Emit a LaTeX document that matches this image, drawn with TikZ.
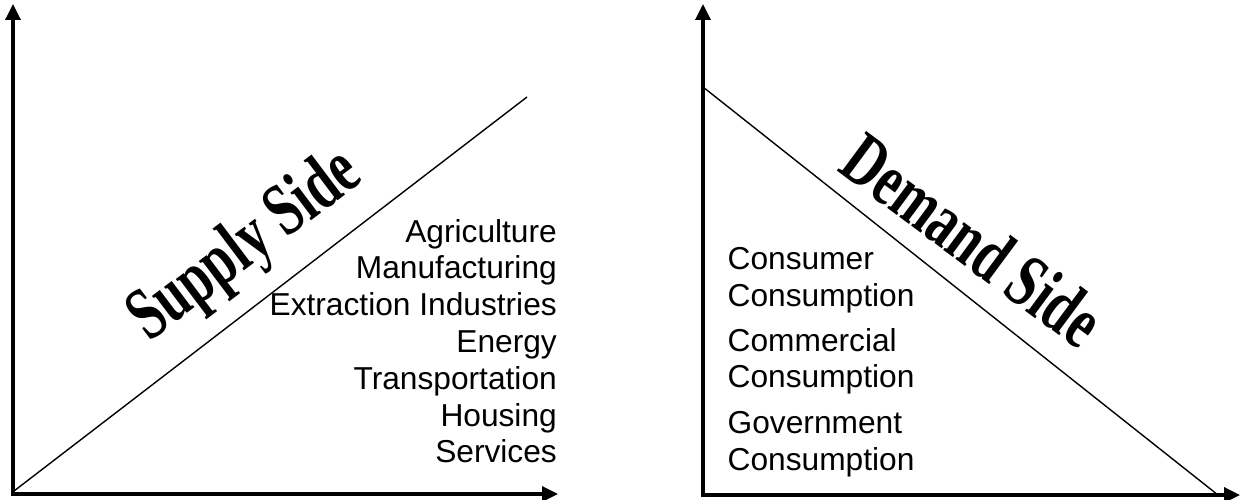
\documentclass[tikz,border=0pt]{standalone}
\usepackage{fontspec}
\setmainfont{Liberation Sans}
\newfontfamily\titlefont{Liberation Serif}
\usetikzlibrary{arrows.meta}
\tikzset{
  axis/.style={line width=3.4pt, {Triangle[length=16pt,width=15pt]}-{Triangle[length=16pt,width=15pt]}, line join=miter},
  diag/.style={line width=1.4pt},
  lbl/.style={inner sep=0pt, font=\fontsize{31.7}{36.8}\selectfont},
  ttl/.style={inner sep=0pt, font=\titlefont\bfseries\fontsize{53}{53}\selectfont}
}
\begin{document}
\begin{tikzpicture}[x=1pt,y=-1pt]
\useasboundingbox (0,0) rectangle (1241,500);
% left panel
\coordinate (Ya) at (13,4);
\coordinate (Oa) at (13,494);
\coordinate (Xa) at (558,494);
\coordinate (Sa) at (14,491);
\coordinate (Sb) at (527,97);
\draw[axis] (Ya) -- (Oa) -- (Xa);
\draw[diag] (Sa) -- (Sb);
\node[ttl, rotate=37] (supply) at (246,247) {\scalebox{1}[1.42]{Supply Side}};
\node[lbl, anchor=base east] (s1) at (557,242) {Agriculture};
\node[lbl, anchor=base east] (s2) at (557,278.8) {Manufacturing};
\node[lbl, anchor=base east] (s3) at (557,315.6) {Extraction Industries};
\node[lbl, anchor=base east] (s4) at (557,352.4) {Energy};
\node[lbl, anchor=base east] (s5) at (557,389.2) {Transportation};
\node[lbl, anchor=base east] (s6) at (557,426) {Housing};
\node[lbl, anchor=base east] (s7) at (557,462.8) {Services};
% right panel
\coordinate (Yb) at (703,4);
\coordinate (Ob) at (703,495);
\coordinate (Xb) at (1240,495);
\coordinate (Da) at (703,87);
\coordinate (Db) at (1218,495);
\draw[axis] (Yb) -- (Ob) -- (Xb);
\draw[diag] (Da) -- (Db);
\node[ttl, rotate=-36.5] (demand) at (973,240) {\scalebox{1}[1.42]{Demand Side}};
\node[lbl, anchor=base west] (d1) at (727.5,269) {Consumer};
\node[lbl, anchor=base west] (d2) at (727.5,306) {Consumption};
\node[lbl, anchor=base west] (d3) at (727.5,351) {Commercial};
\node[lbl, anchor=base west] (d4) at (727.5,387.5) {Consumption};
\node[lbl, anchor=base west] (d5) at (727.5,433) {Government};
\node[lbl, anchor=base west] (d6) at (727.5,470) {Consumption};
\end{tikzpicture}
\end{document}
